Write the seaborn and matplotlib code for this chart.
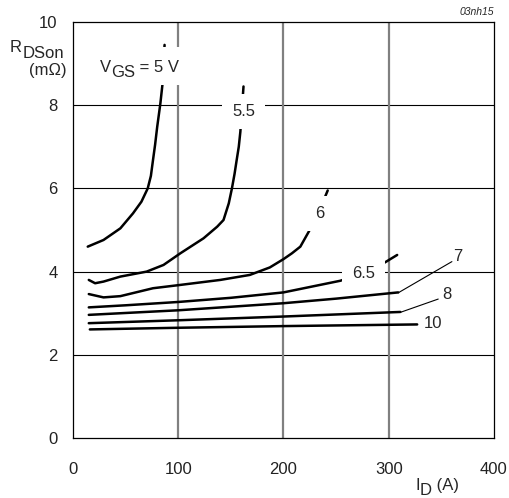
import numpy
import pandas
import seaborn
import matplotlib
matplotlib.use("Agg")
import matplotlib.pyplot as pyplot
from matplotlib.patches import Rectangle

# curves: drain current (A) vs RDSon (mOhm)
id_5 = [14, 29, 45, 57, 65, 71, 74, 76, 78, 80, 83, 85, 87]
r_5 = [4.60, 4.76, 5.04, 5.40, 5.68, 6.00, 6.30, 6.68, 7.05, 7.48, 8.04, 8.50, 9.45]
id_55 = [15, 21, 29, 45, 70, 86, 102, 124, 137, 143, 148, 151, 153.5, 155.5, 157.5, 159, 162]
r_55 = [3.80, 3.72, 3.76, 3.88, 4.00, 4.16, 4.44, 4.80, 5.08, 5.24, 5.64, 6.00, 6.35, 6.68, 7.00, 7.36, 8.45]
id_6 = [15, 29, 45, 76, 102, 140, 168, 187, 200, 208, 216, 224, 233, 242]
r_6 = [3.46, 3.38, 3.41, 3.60, 3.68, 3.80, 3.92, 4.10, 4.30, 4.44, 4.60, 4.96, 5.40, 5.95]
id_65 = [15, 50, 100, 150, 200, 254, 275, 295, 308]
r_65 = [3.14, 3.19, 3.27, 3.37, 3.50, 3.78, 3.96, 4.20, 4.40]
id_7 = [15, 100, 200, 250, 309]
r_7 = [2.96, 3.07, 3.24, 3.35, 3.50]
id_8 = [15, 100, 200, 311]
r_8 = [2.76, 2.83, 2.92, 3.03]
id_10 = [16, 100, 200, 327]
r_10 = [2.61, 2.65, 2.69, 2.73]

x_ticks = [0, 100, 200, 300, 400]
y_ticks = [0, 2, 4, 6, 8, 10]

# label text, position, and for the leader lines the curve end they point at
labels = ["5.5", "6", "6.5", "7", "8", "10"]
label_x = [162, 234.7, 275.8, 366, 355, 333]
label_y = [7.86, 5.40, 3.96, 4.37, 3.46, 2.76]
leader_from = {"7": (309, 3.49), "8": (311, 3.02)}
leader_to = {"7": (360, 4.24), "8": (347, 3.34)}

curves = pandas.concat([
    pandas.DataFrame({"ID": id_5, "R": r_5, "VGS": "5"}),
    pandas.DataFrame({"ID": id_55, "R": r_55, "VGS": "5.5"}),
    pandas.DataFrame({"ID": id_6, "R": r_6, "VGS": "6"}),
    pandas.DataFrame({"ID": id_65, "R": r_65, "VGS": "6.5"}),
    pandas.DataFrame({"ID": id_7, "R": r_7, "VGS": "7"}),
    pandas.DataFrame({"ID": id_8, "R": r_8, "VGS": "8"}),
    pandas.DataFrame({"ID": id_10, "R": r_10, "VGS": "10"}),
])

seaborn.set_style("white")
pyplot.rcParams["font.family"] = ["Liberation Sans", "DejaVu Sans"]


def subscripted(ax, x, y, main, sub, tail="", size=12, subsize=12, drop=3.8, **kw):
    # main letter, lowered subscript, then the rest, chained by their bounding boxes
    t1 = ax.text(x, y, main, fontsize=size, ha="left", va="baseline", clip_on=False, **kw)
    t2 = ax.annotate(sub, xy=(1, 0), xycoords=t1, xytext=(0.3, -drop), textcoords="offset points",
                     fontsize=subsize, ha="left", va="bottom", annotation_clip=False, **kw)
    if tail:
        ax.annotate(tail, xy=(1, 0), xycoords=t2, xytext=(0, drop), textcoords="offset points",
                    fontsize=size, ha="left", va="bottom", annotation_clip=False, **kw)


fig = pyplot.figure(figsize=(5.1, 4.98), dpi=100)
ax = fig.add_axes([73/510, 60/498, 421/510, 416/498])

seaborn.lineplot(data=curves, x="ID", y="R", units="VGS", estimator=None, sort=False,
                 color="black", linewidth=1.8, ax=ax, zorder=3)

ax.set_xlim(0, 400)
ax.set_ylim(0, 10)
ax.set_xticks(x_ticks)
ax.set_yticks(y_ticks)
ax.tick_params(axis="both", length=0, labelsize=12, colors="#222222")
ax.tick_params(axis="x", pad=17)
ax.tick_params(axis="y", pad=11)
ax.set_xlabel("")
ax.set_ylabel("")

for y in y_ticks[1:-1]:
    ax.axhline(y, color="black", linewidth=0.8, zorder=1)
for x in x_ticks[1:-1]:
    ax.axvline(x, color="#808080", linewidth=1.6, zorder=1)
for s in ax.spines.values():
    s.set_color("black")
    s.set_linewidth(0.9)

box = dict(boxstyle="square,pad=0.6", facecolor="white", edgecolor="none")

# white patch behind the V_GS label, breaking the 5 V curve and the 100 A grid line
ax.add_patch(Rectangle((16, 8.49), 97, 0.91, facecolor="white", edgecolor="none", zorder=4))
subscripted(ax, 25.5, 8.80, "V", "GS", " = 5 V", zorder=5)

for name, lx, ly in zip(labels, label_x, label_y):
    if name in ("7", "8"):
        ax.text(lx, ly, name, fontsize=12, ha="center", va="center", zorder=5)
        (x0, y0), (x1, y1) = leader_from[name], leader_to[name]
        ax.plot([x0, x1], [y0, y1], color="black", linewidth=0.8, zorder=4)
    elif name == "10":
        ax.text(lx, ly, name, fontsize=12, ha="left", va="center", zorder=5)
    else:
        ax.text(lx, ly, name, fontsize=12, ha="center", va="center", bbox=box, zorder=5)

# axis titles in the datasheet corners
subscripted(ax, -60, 9.28, "R", "DSon", drop=4.3)
ax.text(-5.7, 8.84, "(m\u03a9)", fontsize=12, ha="right", va="center")
subscripted(ax, 325, -1.25, "I", "D", " (A)")

ax.text(1.0, 1.012, "03nh15", fontsize=7.5, style="italic", ha="right", va="bottom",
        transform=ax.transAxes)

fig.savefig("out.png", dpi=100)
